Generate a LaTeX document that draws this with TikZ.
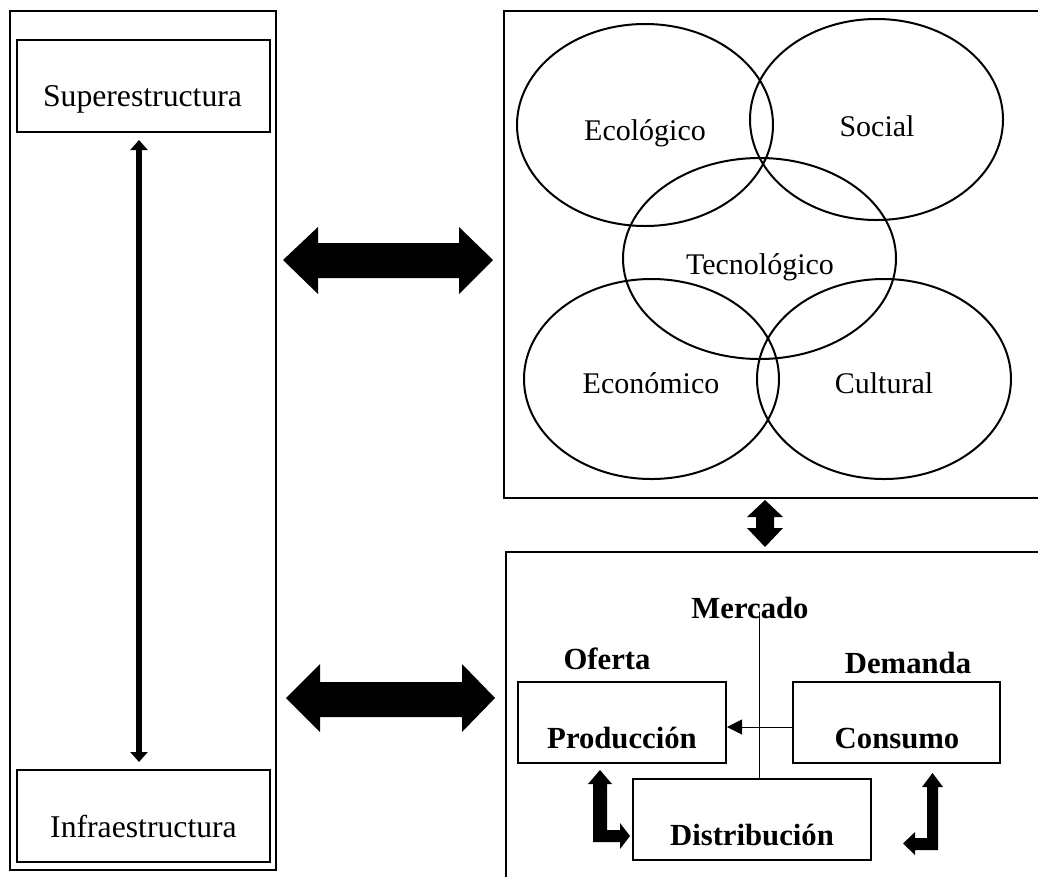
\documentclass[tikz,border=0pt]{standalone}
\usepackage{fontspec}
\setmainfont{Liberation Serif}
\usetikzlibrary{arrows.meta,shapes.geometric}
\begin{document}
\begin{tikzpicture}[x=1pt,y=-1pt,
  frame/.style={draw, rectangle, line width=2pt, inner sep=0pt},
  ell/.style={draw, ellipse, line width=2pt, inner sep=0pt},
  txt/.style={anchor=base, inner sep=0pt, font=\fontsize{30}{36}\selectfont},
  txtl/.style={anchor=base, inner sep=0pt, font=\fontsize{31.7}{38}\selectfont},
  txtb/.style={anchor=base, inner sep=0pt, font=\fontsize{30.7}{37}\selectfont\bfseries},
  bigarrow/.style={fill=black, draw=none},
  thin/.style={line width=1pt}]
\useasboundingbox (0,0) rectangle (1038,876);
\fill[white] (0,0) rectangle (1038,876);
\clip (0,0) rectangle (1038,876);
% left column
\node[frame, minimum width=266pt, minimum height=859pt] (left) at (143,440.5) {};
\node[frame, minimum width=253pt, minimum height=92pt] (sup) at (143.5,86) {};
\node[frame, minimum width=253pt, minimum height=92pt] (inf) at (143.5,816) {};
\node[txtl] (tsup) at (142.5,106) {Superestructura};
\node[txtl] (tinf) at (143.5,837) {Infraestructura};
\coordinate (xs) at (139,0);
\draw[line width=6pt, shorten <=7pt, shorten >=7pt,
  {Triangle[width=17pt,length=10pt]}-{Triangle[width=17pt,length=10pt]}]
  (sup.south -| xs) -- (inf.north -| xs);
% top right
\node[frame, minimum width=546pt, minimum height=487pt] (top) at (777,254.5) {};
\node[ell, minimum width=256pt, minimum height=202pt] (eco) at (645,125) {};
\node[ell, minimum width=253pt, minimum height=201pt] (soc) at (876.5,119.5) {};
\node[ell, minimum width=273pt, minimum height=201pt] (tec) at (759.5,258.5) {};
\node[ell, minimum width=255pt, minimum height=200pt] (econ) at (651.5,379) {};
\node[ell, minimum width=254pt, minimum height=200pt] (cul) at (884,379) {};
\node[txt] (teco) at (645,140) {Ecológico};
\node[txt] (tsoc) at (877,136) {Social};
\node[txt] (ttec) at (760,274) {Tecnológico};
\node[txt] (tecon) at (651,393) {Económico};
\node[txt] (tcul) at (884,393) {Cultural};
% bottom right
\node[frame, minimum width=544pt, minimum height=338pt] (bot) at (778,721) {};
\node[frame, minimum width=208pt, minimum height=81pt] (prod) at (622,722.5) {};
\node[frame, minimum width=207pt, minimum height=81pt] (cons) at (896.5,722.5) {};
\node[frame, minimum width=238pt, minimum height=81pt] (dist) at (752,819.5) {};
\node[txtb] (tmer) at (750,618) {Mercado};
\node[txtb] (tofe) at (607,669) {Oferta};
\node[txtb] (tdem) at (908,673) {Demanda};
\node[txtb] (tprod) at (622,748) {Producción};
\node[txtb] (tcons) at (897,748) {Consumo};
\node[txtb] (tdist) at (752,845) {Distribución};
\coordinate (mtop) at (759,612);
\draw[thin] (mtop) -- (mtop |- dist.north);
\coordinate (ya) at (0,727);
\draw[thin, -{Triangle[width=15pt,length=15pt]}] (cons.west |- ya) -- (prod.east |- ya);
% big double arrows
\fill[bigarrow] (283,260) -- (318,227) -- (318,243) -- (459,243) -- (459,227) -- (493,260)
  -- (459,294) -- (459,278) -- (318,278) -- (318,294) -- cycle;
\fill[bigarrow] (286,698) -- (320,664) -- (320,682) -- (462,682) -- (462,664) -- (495,698)
  -- (462,732) -- (462,717) -- (320,717) -- (320,732) -- cycle;
% small vertical double arrow
\fill[bigarrow] (765,500) -- (783,517) -- (774,517) -- (774,528) -- (783,528) -- (765,547)
  -- (747,528) -- (756,528) -- (756,517) -- (747,517) -- cycle;
% bent arrows
\fill[bigarrow] (600,770) -- (612,784) -- (607,784) -- (607,830) -- (620,830) -- (620,823)
  -- (630,836) -- (620,849) -- (620,842) -- (593,842) -- (593,784) -- (588,784) -- cycle;
\fill[bigarrow] (932.5,773) -- (943,787) -- (938,787) -- (938,850) -- (915,850) -- (915,855)
  -- (903,843.5) -- (915,832) -- (915,838) -- (927,838) -- (927,787) -- (922,787) -- cycle;
\end{tikzpicture}
\end{document}
